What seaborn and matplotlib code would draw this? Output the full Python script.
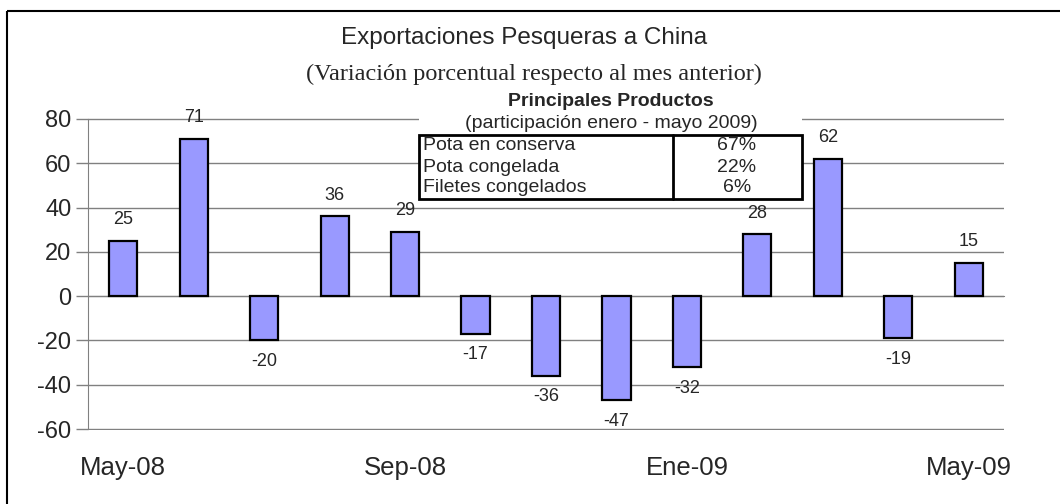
import numpy as np
import pandas as pd
import matplotlib
matplotlib.use('Agg')
import matplotlib.pyplot as plt
import seaborn as sns
from matplotlib.patches import Rectangle

months = ['May-08', 'Jun-08', 'Jul-08', 'Ago-08', 'Sep-08', 'Oct-08', 'Nov-08',
          'Dic-08', 'Ene-09', 'Feb-09', 'Mar-09', 'Abr-09', 'May-09']
variacion = [25, 71, -20, 36, 29, -17, -36, -47, -32, 28, 62, -19, 15]

productos = ['Pota en conserva', 'Pota congelada', 'Filetes congelados']
participacion = ['67%', '22%', '6%']

df = pd.DataFrame({'mes': months, 'var': variacion})

sns.set_style('white')
plt.rcParams['font.family'] = ['Liberation Sans', 'DejaVu Sans']
plt.rcParams['axes.unicode_minus'] = False

fig = plt.figure(figsize=(10.6, 5.04), dpi=100)
W, H = 1060, 504
ax = fig.add_axes([88 / W, (H - 430) / H, 916 / W, 312 / H])

sns.barplot(data=df, x='mes', y='var', order=months, ax=ax, color='#9999FF',
            saturation=1, width=0.4, edgecolor='black', linewidth=1.6, zorder=3)

ax.set_xlim(-0.5, 12.5)
ax.set_ylim(-60.4, 80.4)
ax.set_yticks(np.arange(-60, 81, 20))
ax.yaxis.grid(True, color='#808080', linewidth=1)
ax.set_axisbelow(True)
ax.set_xlabel('')
ax.set_ylabel('')

for s in ['top', 'right']:
    ax.spines[s].set_visible(False)
ax.spines['left'].set_color('#808080')
ax.spines['left'].set_bounds(-60, 80)
ax.spines['bottom'].set_color('#808080')
ax.spines['bottom'].set_position(('data', 0))

ax.set_xticks(range(0, 13, 4))
ax.set_xticklabels(months[::4])
ax.set_xticks(np.arange(-0.5, 13, 2), minor=True)
ax.tick_params(axis='x', which='major', length=0, pad=115, labelsize=18.5)
ax.tick_params(axis='x', which='minor', length=5, color='#808080', width=1,
               direction='out')
ax.tick_params(axis='y', length=9, color='#808080', width=1, direction='out',
               pad=3, labelsize=17, left=True)

ax.bar_label(ax.containers[0], labels=[str(v) for v in variacion],
             padding=9, fontsize=13)

# overlay in pixel coordinates for title, table and frame
ov = fig.add_axes([0, 0, 1, 1], zorder=5)
ov.set_xlim(0, W)
ov.set_ylim(H, 0)
ov.axis('off')
ov.patch.set_alpha(0)

ov.add_patch(Rectangle((7, 11), 1100, 600, fill=False, edgecolor='black', linewidth=1.5))

ov.text(524, 38, 'Exportaciones Pesqueras a China', ha='center', va='center',
        fontsize=17.5)
ov.text(534, 74, '(Variación porcentual respecto al mes anterior)', ha='center',
        va='center', fontsize=17.5, family=['Liberation Serif', 'DejaVu Serif'])

# table of main products
ov.add_patch(Rectangle((419, 90), 383, 45, facecolor='white', edgecolor='none'))
ov.add_patch(Rectangle((419, 135), 383, 64, facecolor='white', edgecolor='black',
                       linewidth=2))
ov.plot([673, 673], [135, 199], color='black', linewidth=2)
ov.text(611, 102, 'Principales Productos', ha='center', va='center',
        fontsize=14, fontweight='bold')
ov.text(611, 124, '(participación enero - mayo 2009)', ha='center', va='center',
        fontsize=14)
for i, (p, v) in enumerate(zip(productos, participacion)):
    y = 146 + i * 21
    ov.text(423, y, p, ha='left', va='center', fontsize=14)
    ov.text(737, y, v, ha='center', va='center', fontsize=14)

fig.savefig('out.png', dpi=100)
